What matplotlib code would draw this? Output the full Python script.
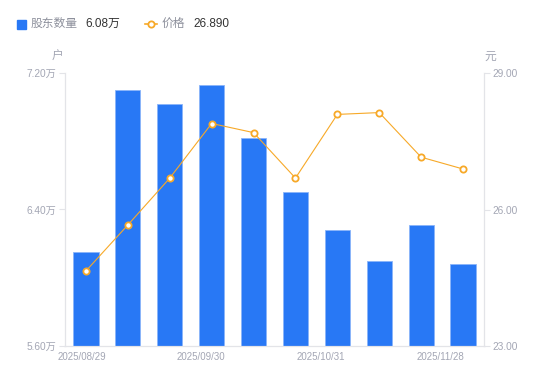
import matplotlib
matplotlib.use("Agg")
import matplotlib.pyplot as plt
from matplotlib.patches import Rectangle
from matplotlib.lines import Line2D

plt.rcParams['font.family'] = ['Liberation Sans', 'Noto Sans CJK SC']

dates = ['2025/08/29', '2025/09/10', '2025/09/19', '2025/09/30', '2025/10/10',
         '2025/10/20', '2025/10/31', '2025/11/10', '2025/11/20', '2025/11/28']
holders = [6.15, 7.10, 7.02, 7.13, 6.82, 6.50, 6.28, 6.10, 6.31, 6.08]  # 万户
price = [24.65, 25.66, 26.69, 27.89, 27.69, 26.69, 28.09, 28.13, 27.15, 26.89]

shown_idx = [0, 3, 6, 9]
label_shift = [-0.1, -0.25, -0.4, -0.55]

blue = '#2878f5'
orange = '#f7a928'
grey_txt = '#a3a6b4'
axis_col = '#e3e4e8'

fig = plt.figure(figsize=(5.5, 3.81), dpi=100)
ax = fig.add_axes([65 / 550, 35 / 381, 419 / 550, 273 / 381])
ax2 = ax.twinx()

x = list(range(len(dates)))
ax.bar(x, holders, width=0.6, color=blue, edgecolor='#8ab4fa', linewidth=0.6)
ax.set_xlim(-0.5, len(dates) - 0.5)
ax.set_ylim(5.6, 7.2)
ax.set_yticks([5.6, 6.4, 7.2])
ax.set_yticklabels([f'{v:.2f}万' for v in [5.6, 6.4, 7.2]])

ax2.plot(x, price, color=orange, linewidth=0.8, marker='o', markersize=4.5,
         markerfacecolor='white', markeredgecolor=orange, markeredgewidth=1.3)
ax2.set_ylim(23, 29)
ax2.set_yticks([23, 26, 29])
ax2.set_yticklabels([f'{v:.2f}' for v in [23, 26, 29]])

ax.set_xticks([i + s for i, s in zip(shown_idx, label_shift)])
ax.set_xticklabels([dates[i] for i in shown_idx])
ax.tick_params(axis='x', length=0, labelsize=7, colors=grey_txt, pad=4)
ax.tick_params(axis='y', length=4, width=0.8, color=axis_col, labelsize=7.3,
               labelcolor=grey_txt, pad=2)
ax2.tick_params(axis='y', length=4, width=0.8, color=axis_col, labelsize=7.3,
                labelcolor=grey_txt, pad=2)

for a in (ax, ax2):
    a.spines['top'].set_visible(False)
    for side in ('left', 'right', 'bottom'):
        a.spines[side].set_color(axis_col)
        a.spines[side].set_linewidth(0.8)

# unit labels
fig.text(58 / 550, 1 - 57 / 381, '户', color=grey_txt, fontsize=8.5, ha='center', va='center')
fig.text(490 / 550, 1 - 57 / 381, '元', color=grey_txt, fontsize=8.5, ha='center', va='center')

# legend
ly = 1 - 24 / 381
fig.patches.append(Rectangle((17 / 550, 1 - 28.5 / 381), 9 / 550, 9 / 381,
                             transform=fig.transFigure, color=blue))
fig.text(31 / 550, ly, '股东数量', color='#8d909c', fontsize=8.5, va='center')
fig.text(85 / 550, ly, f'{holders[-1]:.2f}万', color='#333333', fontsize=8.5, va='center')
fig.lines.append(Line2D([145 / 550, 157 / 550], [ly, ly], transform=fig.transFigure,
                        color=orange, linewidth=1.2))
fig.lines.append(Line2D([151 / 550], [ly], transform=fig.transFigure, color=orange,
                        marker='o', markersize=4.5, markerfacecolor='white',
                        markeredgewidth=1.3, linestyle='none'))
fig.text(162 / 550, ly, '价格', color='#8d909c', fontsize=8.5, va='center')
fig.text(193 / 550, ly, f'{price[-1]:.3f}', color='#333333', fontsize=8.5, va='center')

fig.savefig('out.png', dpi=100)
